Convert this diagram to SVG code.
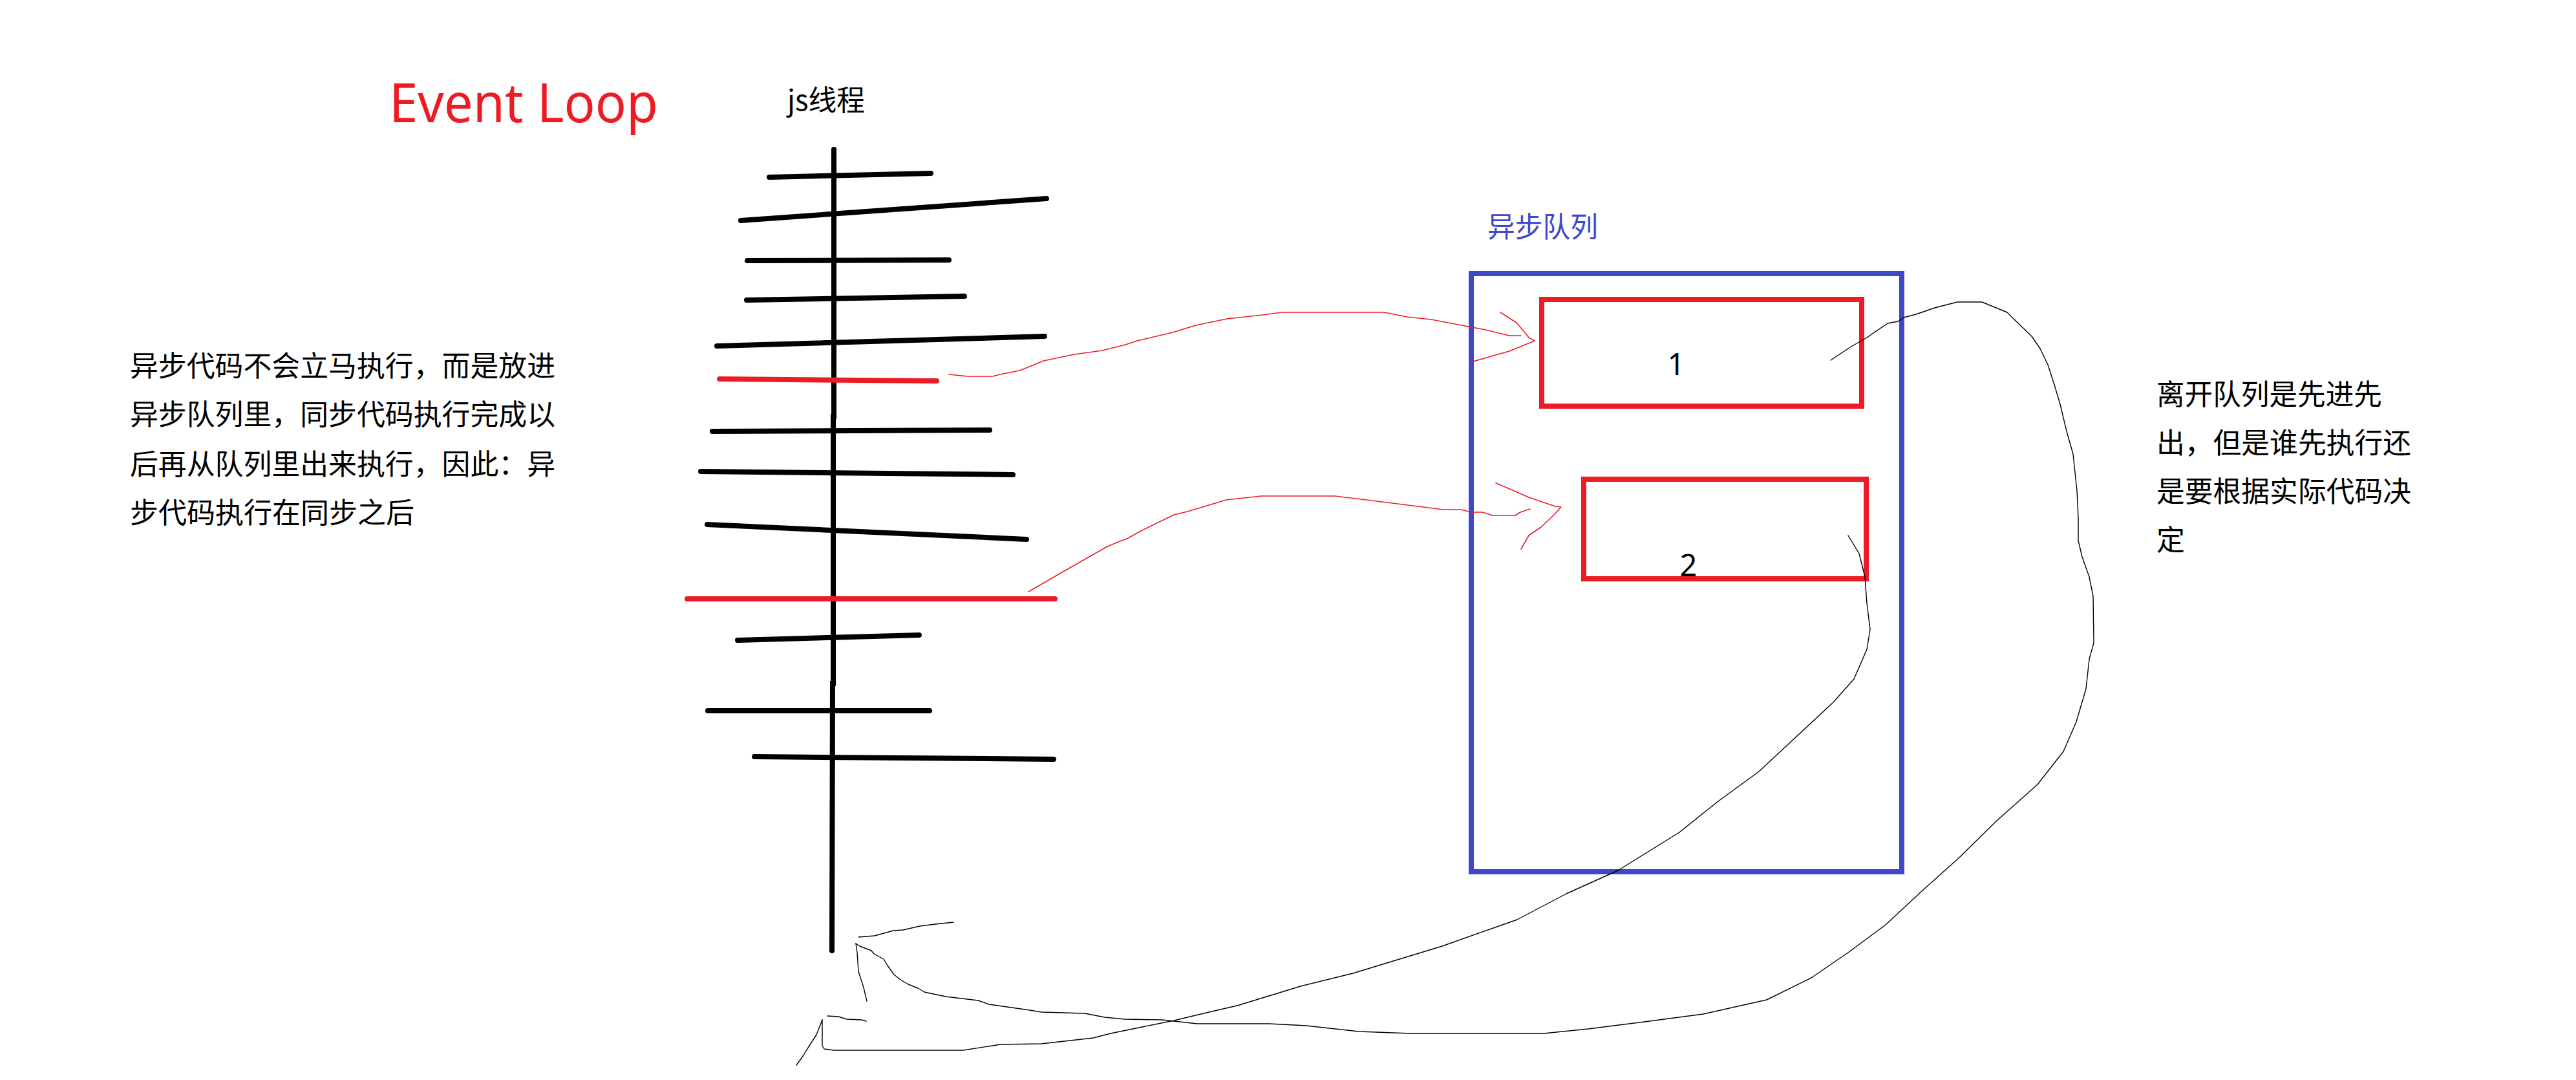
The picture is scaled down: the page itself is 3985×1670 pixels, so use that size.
<svg xmlns="http://www.w3.org/2000/svg" width="3985" height="1670" viewBox="0 0 3985 1670">
<style>
  .cjk { font-family: "Noto Sans CJK SC", "Noto Sans", sans-serif; font-size: 44px; fill: #000; }
  .lat { font-family: "Noto Sans", "Liberation Sans", sans-serif; }
  .tick { stroke: #000; stroke-width: 8; stroke-linecap: round; fill: none; }
  .rtick { stroke: #ED1C24; stroke-width: 8; stroke-linecap: round; fill: none; }
  .redbox { fill: none; stroke: #ED1C24; stroke-width: 8; }
  .bluebox { fill: none; stroke: #3F48CC; stroke-width: 8; }
  .redpen { fill: none; stroke: #ED1C24; stroke-width: 1.6; stroke-linejoin: round; stroke-linecap: round; }
  .pen { fill: none; stroke: #000; stroke-width: 1.4; stroke-linejoin: round; stroke-linecap: round; }
</style>
<rect width="3985" height="1670" fill="#fff"/>

<g id="title">
  <text class="lat" x="602" y="189" font-size="84" fill="#ED1C24" textLength="416" lengthAdjust="spacingAndGlyphs">Event Loop</text>
</g>

<g id="js-thread">
  <text class="cjk" x="1218" y="171" textLength="120" lengthAdjust="spacingAndGlyphs">js线程</text>
  <polyline class="tick" points="1290,231 1290,644 1289,644 1289,1057 1288,1057 1287,1470"/>
  <line class="tick" x1="1190" y1="274" x2="1440" y2="268"/>
  <line class="tick" x1="1146" y1="341" x2="1619" y2="307"/>
  <line class="tick" x1="1156" y1="403" x2="1468" y2="402"/>
  <line class="tick" x1="1155" y1="464" x2="1492" y2="458"/>
  <line class="tick" x1="1109" y1="535" x2="1616" y2="520"/>
  <line class="rtick" x1="1113" y1="586" x2="1449" y2="589"/>
  <line class="tick" x1="1102" y1="667" x2="1531" y2="665"/>
  <line class="tick" x1="1084" y1="729" x2="1567" y2="734"/>
  <line class="tick" x1="1094" y1="811" x2="1588" y2="834"/>
  <line class="rtick" x1="1063" y1="926" x2="1632" y2="926"/>
  <line class="tick" x1="1141" y1="990" x2="1422" y2="982"/>
  <line class="tick" x1="1095" y1="1099" x2="1438" y2="1099"/>
  <line class="tick" x1="1167" y1="1170" x2="1630" y2="1174"/>
</g>

<g id="note-left">
  <text class="cjk" x="201" y="582" textLength="658" lengthAdjust="spacingAndGlyphs">异步代码不会立马执行，而是放进</text>
  <text class="cjk" x="201" y="657" textLength="658" lengthAdjust="spacingAndGlyphs">异步队列里，同步代码执行完成以</text>
  <text class="cjk" x="201" y="734" textLength="658" lengthAdjust="spacingAndGlyphs">后再从队列里出来执行，因此：异</text>
  <text class="cjk" x="201" y="809" textLength="440" lengthAdjust="spacingAndGlyphs">步代码执行在同步之后</text>
</g>

<g id="async-queue">
  <text class="cjk" x="2301" y="367" fill="#3F48CC" style="fill:#3F48CC" textLength="171" lengthAdjust="spacingAndGlyphs">异步队列</text>
  <rect class="bluebox" x="2276" y="423" width="666" height="925"/>
</g>

<g id="task-1">
  <rect class="redbox" x="2385" y="463" width="495" height="165"/>
  <text class="lat" x="2593" y="580" font-size="47" text-anchor="middle">1</text>
</g>

<g id="task-2">
  <rect class="redbox" x="2450" y="741" width="437" height="154"/>
  <text class="lat" x="2612" y="891" font-size="47" text-anchor="middle">2</text>
</g>

<g id="note-right">
  <text class="cjk" x="3336" y="626" textLength="349" lengthAdjust="spacingAndGlyphs">离开队列是先进先</text>
  <text class="cjk" x="3336" y="701" textLength="394" lengthAdjust="spacingAndGlyphs">出，但是谁先执行还</text>
  <text class="cjk" x="3336" y="776" textLength="394" lengthAdjust="spacingAndGlyphs">是要根据实际代码决</text>
  <text class="cjk" x="3336" y="851">定</text>
</g>

<g id="connectors">
  <path class="redpen" d="M1468,579 L1498,582 L1535,582 L1547,579 L1577,573 L1595,566 L1614,558 L1662,548 L1705,542 L1741,533 L1759,527 L1814,514 L1850,503 L1898,493 L1953,487 L1983,483 L2141,483 L2177,490 L2214,494 L2256,502 L2298,510 L2335,519 L2353,519"/>
  <path class="redpen" d="M2321,483 L2346,499 L2362,518 L2365,522 L2374,527 L2335,543 L2275,560"/>
  <path class="redpen" d="M1591,915 L1648,882 L1713,845 L1745,832 L1767,820 L1816,796 L1837,791 L1897,773 L1951,767 L2065,767 L2146,777 L2233,788 L2260,788 L2276,792 L2293,792 L2309,797 L2344,797 L2352,792 L2367,787"/>
  <path class="redpen" d="M2314,747 L2333,755 L2365,769 L2406,783 L2415,784 L2403,797 L2384,815 L2365,828 L2353,849"/>
  <path class="pen" d="M2832,557 L2862,537 L2888,522 L2920,500 L2936,497 L2945,491 L2964,486 L2993,476 L3028,467 L3066,467 L3105,483 L3117,495 L3143,520 L3156,539 L3168,564 L3178,595 L3187,625 L3197,667 L3207,702 L3213,759 L3215,800 L3215,836 L3221,861 L3232,892 L3238,922 L3239,994 L3232,1019 L3227,1065 L3212,1116 L3192,1162 L3152,1213 L3089,1269 L3031,1326 L2974,1377 L2917,1430 L2859,1473 L2802,1512 L2733,1546 L2635,1568 L2544,1580 L2457,1591 L2388,1598 L2182,1598 L2102,1595 L2021,1586 L1963,1583 L1852,1583 L1798,1577 L1740,1576 L1709,1573 L1678,1567 L1611,1565 L1593,1562 L1530,1553 L1513,1547 L1463,1541 L1430,1534 L1420,1528 L1405,1522 L1393,1515 L1383,1507 L1373,1493 L1367,1483 L1352,1475 L1348,1470 L1330,1463 L1324,1459"/>
  <path class="pen" d="M1475,1426 L1447,1429 L1423,1432 L1397,1438 L1382,1439 L1353,1447 L1328,1449"/>
  <path class="pen" d="M1324,1459 L1326,1473 L1328,1502 L1336,1527 L1341,1548"/>
  <path class="pen" d="M2859,828 L2876,856 L2885,892 L2888,933 L2893,973 L2888,1004 L2868,1050 L2836,1086 L2779,1139 L2721,1193 L2658,1239 L2598,1287 L2503,1346 L2423,1382 L2347,1422 L2231,1463 L2093,1505 L2012,1525 L1914,1555 L1879,1563 L1816,1578 L1767,1588 L1718,1598 L1691,1605 L1611,1614 L1548,1615 L1490,1624 L1290,1624 L1275,1622 L1272,1617 L1272,1600 L1272,1577"/>
  <path class="pen" d="M1272,1577 L1263,1600 L1252,1617 L1242,1633 L1232,1647"/>
  <path class="pen" d="M1280,1571 L1297,1572 L1310,1576 L1333,1577 L1340,1579"/>
</g>
</svg>
